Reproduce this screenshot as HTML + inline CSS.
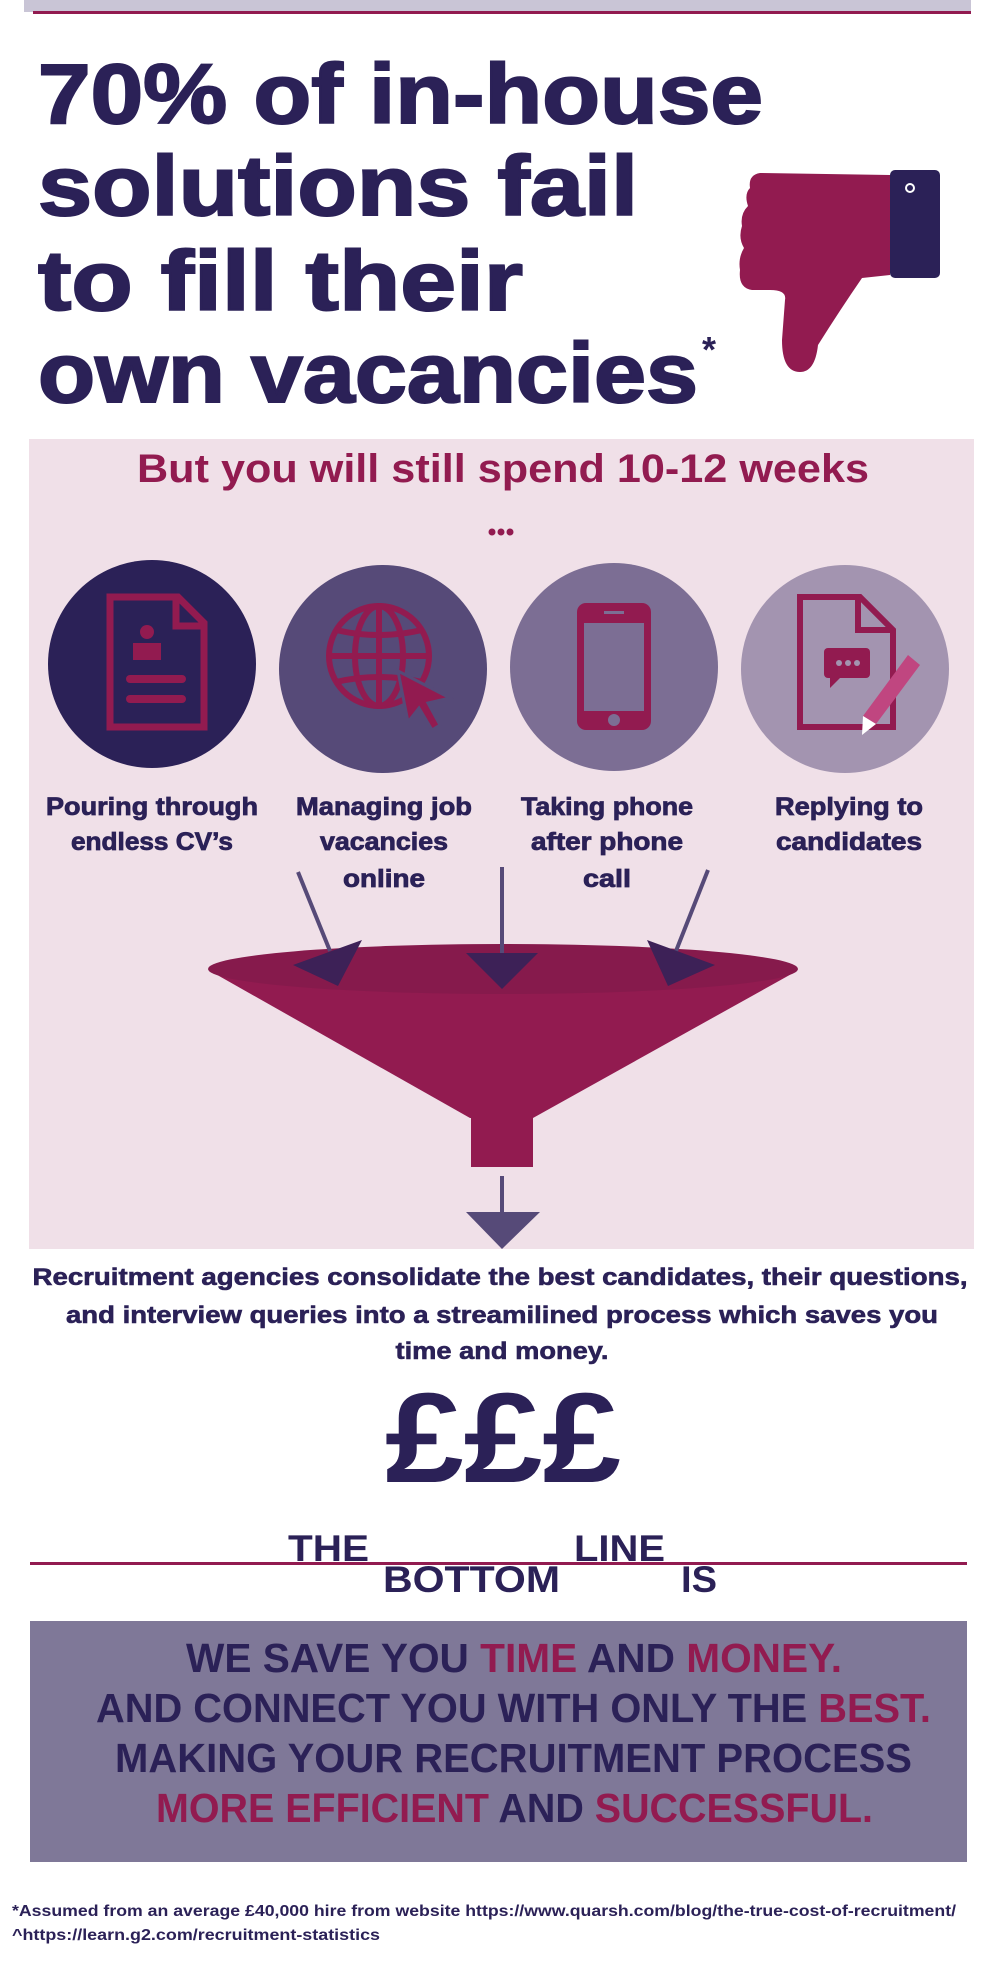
<!DOCTYPE html>
<html><head><meta charset="utf-8"><style>
html,body{margin:0;padding:0;background:#fff;}
svg{display:block;}
text{font-family:"Liberation Sans",sans-serif;font-weight:bold;}
</style></head><body>
<svg width="1000" height="1980" viewBox="0 0 1000 1980" xmlns="http://www.w3.org/2000/svg">
<rect x="0" y="0" width="1000" height="1980" fill="#fff"/>
<rect x="24" y="0" width="947" height="12" fill="#c9c5d6"/>
<rect x="33" y="11" width="938" height="3" fill="#921b50"/>

<g fill="#2b2157" stroke="#2b2157" stroke-width="2">
<text x="38" y="123" font-size="84" textLength="725" lengthAdjust="spacingAndGlyphs">70% of in-house</text>
<text x="38" y="215" font-size="84" textLength="600" lengthAdjust="spacingAndGlyphs">solutions fail</text>
<text x="38" y="310" font-size="84" textLength="485" lengthAdjust="spacingAndGlyphs">to fill their</text>
<text x="38" y="402" font-size="84" textLength="660" lengthAdjust="spacingAndGlyphs">own vacancies</text>
<text x="702" y="362" font-size="36" stroke="none">*</text>
</g>

<!-- thumb down -->
<path d="M760 173 L890 175 L890 275 L862 278 Q840 310 818 345 Q815 372 800 372 Q782 372 782 340 L785 300 Q787 290 770 290 L752 290 Q738 288 740 270 Q738 258 744 248 Q738 238 742 226 Q740 214 748 206 Q744 194 750 188 Q748 175 760 173 Z" fill="#921b50"/>
<rect x="890" y="170" width="50" height="108" rx="5" fill="#2b2157"/>
<circle cx="910" cy="188" r="4" fill="none" stroke="#fff" stroke-width="2"/>

<!-- pink panel -->
<rect x="29" y="439" width="945" height="810" fill="#f0e0e8"/>
<text x="137" y="482" font-size="40" fill="#921b50" textLength="732" lengthAdjust="spacingAndGlyphs">But you will still spend 10-12 weeks</text>
<g fill="#921b50"><circle cx="492" cy="532" r="3.5"/><circle cx="501" cy="532" r="3.5"/><circle cx="510" cy="532" r="3.5"/></g>

<circle cx="152" cy="664" r="104" fill="#2b2157"/>
<circle cx="383" cy="669" r="104" fill="#564a78"/>
<circle cx="614" cy="667" r="104" fill="#7c6e94"/>
<circle cx="845" cy="669" r="104" fill="#a394b0"/>

<!-- CV icon -->
<g fill="none" stroke="#921b50" stroke-width="7">
<path d="M110 597 L178 597 L204 623 L204 727 L110 727 Z"/>
<path d="M176 597 L176 626 L204 626"/>
</g>
<g fill="#921b50">
<circle cx="147" cy="632" r="7"/>
<rect x="133" y="643" width="28" height="17"/>
<rect x="126" y="675" width="60" height="8" rx="4"/>
<rect x="126" y="695" width="60" height="8" rx="4"/>
</g>
<!-- globe icon -->
<g fill="none" stroke="#921b50" stroke-width="6">
<circle cx="379" cy="656" r="50"/>
<ellipse cx="379" cy="656" rx="24" ry="50"/>
<line x1="379" y1="606" x2="379" y2="706"/>
<line x1="329" y1="656" x2="429" y2="656"/>
<path d="M336 630 Q379 640 422 630"/>
<path d="M336 682 Q379 672 422 682"/>
</g>
<path d="M398 671 L450 698 L428 703 L440 725 L432 730 L419 708 L408 722 Z" fill="#921b50" stroke="#564a78" stroke-width="3"/>
<!-- phone icon -->
<rect x="577" y="603" width="74" height="127" rx="9" fill="#921b50"/>
<rect x="584" y="623" width="60" height="88" fill="#7c6e94"/>
<rect x="604" y="611" width="20" height="3" fill="#7c6e94"/>
<circle cx="614" cy="720" r="6" fill="#7c6e94"/>
<!-- reply icon -->
<g fill="none" stroke="#921b50" stroke-width="6">
<path d="M800 597 L860 597 L893 630 L893 727 L800 727 Z"/>
<path d="M858 597 L858 630 L893 630"/>
</g>
<rect x="824" y="648" width="46" height="30" rx="4" fill="#921b50"/>
<path d="M830 676 L830 688 L842 676 Z" fill="#921b50"/>
<g fill="#a394b0"><circle cx="839" cy="663" r="3"/><circle cx="848" cy="663" r="3"/><circle cx="857" cy="663" r="3"/></g>
<path d="M908 655 L920 665 L876 724 L863 716 Z" fill="#c04680"/>
<path d="M863 716 L876 724 L862 735 Z" fill="#fff"/>

<g fill="#2b2157" font-size="25" text-anchor="middle" stroke="#2b2157" stroke-width="0.8">
<text x="152" y="815" textLength="212" lengthAdjust="spacingAndGlyphs">Pouring through</text>
<text x="152" y="850" textLength="162" lengthAdjust="spacingAndGlyphs">endless CV’s</text>
<text x="384" y="815" textLength="176" lengthAdjust="spacingAndGlyphs">Managing job</text>
<text x="384" y="850" textLength="128" lengthAdjust="spacingAndGlyphs">vacancies</text>
<text x="384" y="887" textLength="82" lengthAdjust="spacingAndGlyphs">online</text>
<text x="607" y="815" textLength="172" lengthAdjust="spacingAndGlyphs">Taking phone</text>
<text x="607" y="850" textLength="152" lengthAdjust="spacingAndGlyphs">after phone</text>
<text x="607" y="887" textLength="48" lengthAdjust="spacingAndGlyphs">call</text>
<text x="849" y="815" textLength="148" lengthAdjust="spacingAndGlyphs">Replying to</text>
<text x="849" y="850" textLength="146" lengthAdjust="spacingAndGlyphs">candidates</text>
</g>

<!-- funnel -->
<path d="M212 972 L470 1118 L533 1118 L795 972 Z" fill="#921b50"/>
<rect x="471" y="1115" width="62" height="52" fill="#921b50"/>
<ellipse cx="503" cy="969" rx="295" ry="25" fill="#861a4c"/>

<!-- arrows -->
<g stroke="#564a78" stroke-width="4">
<line x1="298" y1="872" x2="330" y2="951"/>
<line x1="502" y1="867" x2="502" y2="955"/>
<line x1="708" y1="870" x2="676" y2="951"/>
<line x1="502" y1="1176" x2="502" y2="1214"/>
</g>
<g fill="#3d2157">
<path d="M362 940 L293 965 L338 986 Z"/>
<path d="M466 953 L538 953 L502 989 Z"/>
<path d="M647 940 L715 965 L668 986 Z"/>
</g>
<path d="M466 1212 L540 1212 L502 1249 Z" fill="#564a78"/>

<g fill="#2b2157" font-size="24" text-anchor="middle" stroke="#2b2157" stroke-width="0.6">
<text x="500" y="1285" textLength="935" lengthAdjust="spacingAndGlyphs">Recruitment agencies consolidate the best candidates, their questions,</text>
<text x="502" y="1323" textLength="872" lengthAdjust="spacingAndGlyphs">and interview queries into a streamilined process which saves you</text>
<text x="502" y="1359" textLength="213" lengthAdjust="spacingAndGlyphs">time and money.</text>
</g>
<text x="385" y="1482" font-size="128" fill="#2b2157" textLength="236" lengthAdjust="spacingAndGlyphs">£££</text>

<rect x="30" y="1562" width="937" height="3" fill="#921b50"/>
<g fill="#2b2157" font-size="37">
<text x="288" y="1561" textLength="81" lengthAdjust="spacingAndGlyphs">THE</text>
<text x="383" y="1592" textLength="177" lengthAdjust="spacingAndGlyphs">BOTTOM</text>
<text x="574" y="1561" textLength="91" lengthAdjust="spacingAndGlyphs">LINE</text>
<text x="681" y="1592" textLength="36" lengthAdjust="spacingAndGlyphs">IS</text>
</g>

<rect x="30" y="1621" width="937" height="241" fill="#7f7898"/>
<g font-size="41" fill="#2b2157">
<text x="186" y="1672" textLength="656" lengthAdjust="spacingAndGlyphs">WE SAVE YOU <tspan fill="#921b50">TIME</tspan> AND <tspan fill="#921b50">MONEY.</tspan></text>
<text x="96" y="1722" textLength="835" lengthAdjust="spacingAndGlyphs">AND CONNECT YOU WITH ONLY THE <tspan fill="#921b50">BEST.</tspan></text>
<text x="115" y="1772" textLength="797" lengthAdjust="spacingAndGlyphs">MAKING YOUR RECRUITMENT PROCESS</text>
<text x="156" y="1822" textLength="717" lengthAdjust="spacingAndGlyphs"><tspan fill="#921b50">MORE EFFICIENT</tspan> AND <tspan fill="#921b50">SUCCESSFUL.</tspan></text>
</g>

<g fill="#2b2157" font-size="16">
<text x="12" y="1916" textLength="944" lengthAdjust="spacingAndGlyphs">*Assumed from an average £40,000 hire from website https://www.quarsh.com/blog/the-true-cost-of-recruitment/</text>
<text x="12" y="1940" textLength="368" lengthAdjust="spacingAndGlyphs">^https://learn.g2.com/recruitment-statistics</text>
</g>
</svg>
</body></html>
